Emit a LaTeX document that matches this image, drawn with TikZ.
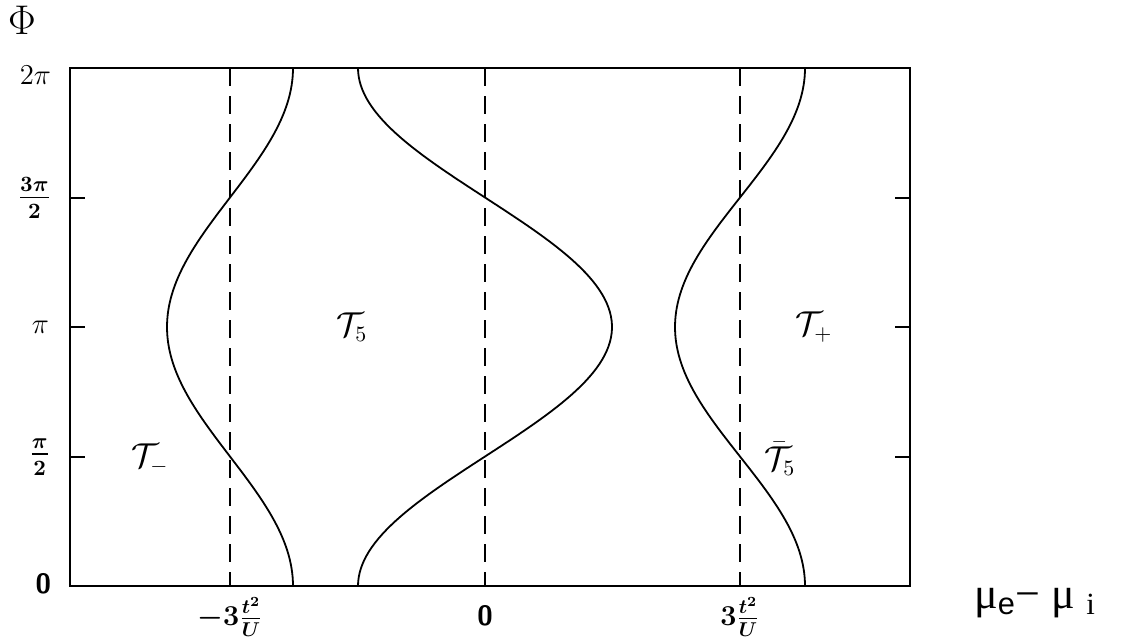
\documentclass[tikz,border=0pt]{standalone}
\usepackage{amsmath}
\usepackage{fontspec}
\usepackage{xcolor}
\newfontfamily\lserif{Liberation Serif}
\newfontfamily\lsans{Liberation Sans}
\usetikzlibrary{positioning, calc}

\begin{document}
\begin{tikzpicture}[
  x=0.5pt, y=-0.5pt,
  every node/.style={font=\fontsize{14}{16}\selectfont},
  frame/.style={line width=1pt},
  curve/.style={line width=0.9pt},
  guide/.style={line width=0.9pt, dash pattern=on 9pt off 5pt},
  tick/.style={line width=0.8pt},
  region/.style={font=\fontsize{16}{18}\selectfont},
  fraclab/.style={anchor=east, font=\fontsize{16}{18}\selectfont},
]
\useasboundingbox (0,0) rectangle (1139,638);

% plot frame
\coordinate (ll) at (70,586);
\coordinate (ur) at (910,68);
\draw[frame] (ll) rectangle (ur);

% dashed guides at -3t^2/U, 0, 3t^2/U
\foreach \gx/\gn in {230/gm, 485/gz, 740/gp} {
  \coordinate (\gn-top) at (\gx,68);
  \coordinate (\gn-bot) at (\gx,586);
  \draw[guide] (\gn-top) -- (\gn-bot);
}

% ticks on both sides
\foreach \ty in {457,327,198} {
  \draw[tick] (70,\ty) -- (85,\ty);
  \draw[tick] (910,\ty) -- (895,\ty);
}

% phase boundaries
\draw[curve] plot[domain=0:360, samples=120] ({485-127*cos(\x)}, {586-\x/360*518});
\draw[curve] plot[domain=0:360, samples=120] ({230+63*cos(\x)}, {586-\x/360*518});
\draw[curve] plot[domain=0:360, samples=120] ({740+65*cos(\x)}, {586-\x/360*518});

% y axis labels
\node (phi) at (22,20) {\fontsize{20}{22}\selectfont$\Phi$};
\node[anchor=east] (ytwopi) at (58,75) {\fontsize{15}{17}\selectfont$2\pi$};
\node[fraclab] (ythree) at (58,198) {$\boldsymbol{\frac{3\pi}{2}}$};
\node[anchor=east] (ypi) at (56,327) {\fontsize{15}{17}\selectfont$\pi$};
\node[fraclab] (yhalf) at (57,457) {$\boldsymbol{\frac{\pi}{2}}$};
\node[anchor=east] (yzero) at (58,584) {\sffamily\bfseries 0};

% x axis labels
\node[below=2pt of gm-bot] (xminus) {$\boldsymbol{-3\frac{t^2}{U}}$};
\node[below=6pt of gz-bot] (xzero) {\sffamily\bfseries 0};
\node[below=2pt of gp-bot] (xplus) {$\boldsymbol{3\frac{t^2}{U}}$};
\node (xlabel) at (1035,603) {\fontsize{22}{24}\selectfont\lserif μ\textsubscript{\lsans e}− μ \textsubscript{i}};

% regions
\node[region] (tfive) at (352,327) {$\mathcal{T}_5$};
\node[region] (tminus) at (150,459) {$\mathcal{T}_-$};
\node[region] (tbar) at (780,459) {$\bar{\mathcal{T}}_5$};
\node[region] (tplus) at (814,327) {$\mathcal{T}_+$};
\end{tikzpicture}
\end{document}
